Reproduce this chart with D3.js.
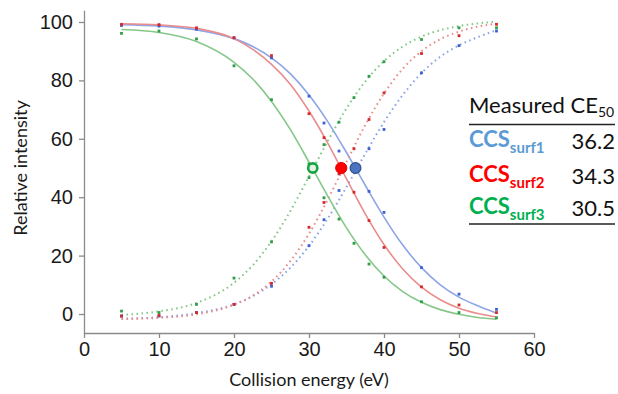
<!DOCTYPE html>
<html>
<head>
<meta charset="utf-8">
<script src="https://cdn.jsdelivr.net/npm/d3@7"></script>
<style>
  body { margin: 0; background: #fff; }
  svg { font-family: Lato, "Open Sans", sans-serif; }
</style>
</head>
<body>
<div id="chart"></div>
<script>
// collision energies where intensities were measured
const ceX = [5, 10, 15, 20, 25, 30, 32, 34, 36, 38, 40, 45, 50, 55];

// measured points, precursor (decreasing) and fragment (increasing)
const blueDec = [98.8, 98.6, 97.5, 94.6, 87.7, 74.6, 65.4, 55.8, 51.0, 42.0, 34.8, 15.9, 6.8, 1.6];
const redDec = [99.2, 99.1, 98.0, 94.6, 88.5, 68.6, 60.4, 50.5, 41.7, 32.0, 22.8, 9.3, 3.1, 0.5];
const greenDec = [96.1, 96.9, 94.2, 85.0, 73.4, 51.4, 39.8, 32.5, 24.2, 17.1, 12.6, 4.2, 0.5, -1.3];
const blueInc = [-0.7, -0.7, 0.5, 3.3, 9.5, 23.4, 32.3, 42.3, 49.0, 56.6, 63.2, 82.6, 91.9, 96.9];
const redInc = [-0.7, -0.5, 0.5, 3.3, 10.5, 29.7, 38.2, 48.0, 56.6, 66.6, 75.7, 89.2, 95.3, 99.2];
const greenInc = [1.0, 0.5, 3.3, 12.3, 24.7, 46.7, 58.0, 65.7, 74.1, 81.4, 86.4, 94.0, 98.0, 98.0];

// fitted curves
const fitX = [5, 10, 15, 20, 22.5, 25, 27.5, 30, 32.5, 35, 37.5, 40, 42.5, 45, 47.5, 50, 52.5, 55];
const blueFitDec = [99.1, 98.6, 97.3, 94.3, 91.6, 87.7, 82.3, 75.0, 65.9, 55.3, 44.1, 33.2, 23.6, 15.9, 10.0, 5.8, 2.8, 0.3];
const redFitDec = [99.4, 99.0, 97.8, 94.3, 90.6, 85.5, 78.7, 69.5, 58.5, 46.3, 34.3, 23.8, 15.4, 9.2, 4.9, 2.0, 0.2, -1.0];
const greenFitDec = [97.4, 96.4, 93.3, 86.2, 80.5, 72.8, 63.2, 52.0, 40.4, 29.5, 20.3, 13.0, 7.7, 4.0, 1.5, -0.1, -1.2, -1.8];
const blueFitInc = [-1.6, -1.1, 0.3, 3.3, 6.1, 10.2, 15.8, 23.3, 32.7, 43.5, 54.9, 65.7, 75.0, 82.5, 88.1, 92.0, 94.8, 97.2];
const redFitInc = [-1.7, -1.3, -0.1, 3.2, 6.3, 11.1, 18.1, 27.5, 39.2, 52.1, 64.7, 75.5, 84.0, 90.0, 94.1, 96.7, 98.4, 99.4];
const greenFitInc = [-0.3, 0.9, 3.8, 10.7, 16.7, 24.9, 35.2, 47.1, 59.2, 70.4, 79.6, 86.6, 91.6, 95.0, 97.2, 98.6, 99.5, 100.1];

// table of measured CE50
const seriesNames = ["surf1", "surf2", "surf3"];
const ce50 = [36.2, 34.3, 30.5];

const xTicks = [0, 10, 20, 30, 40, 50, 60];
const yTicks = [0, 20, 40, 60, 80, 100];

const width = 618, height = 394;

const svg = d3.select("#chart")
    .append("svg")
    .attr("width", width)
    .attr("height", height);

const x = d3.scaleLinear().domain([0, 60]).range([84, 534]);
const y = d3.scaleLinear().domain([-6.5, 104]).range([333, 10.3]);

// axes
const xAxis = svg.append("g")
    .attr("transform", `translate(0,${y(-6.5)})`)
    .call(d3.axisBottom(x).tickValues(xTicks).tickSize(5).tickSizeOuter(0).tickPadding(4));

const yAxis = svg.append("g")
    .attr("transform", `translate(${x(0)},0)`)
    .call(d3.axisLeft(y).tickValues(yTicks).tickSize(5).tickSizeOuter(0).tickPadding(6));

[xAxis, yAxis].forEach(g => {
    g.select(".domain").attr("stroke", "#8a8a8a").attr("stroke-width", 1.3);
    g.selectAll(".tick line").attr("stroke", "#8a8a8a").attr("stroke-width", 1.3);
    g.selectAll(".tick text").attr("fill", "#1a1a1a").style("font-size", "20px");
});

svg.append("text")
    .attr("x", x(30))
    .attr("y", 386)
    .attr("text-anchor", "middle")
    .attr("fill", "#1a1a1a")
    .style("font-size", "18px")
    .text("Collision energy (eV)");

svg.append("text")
    .attr("transform", `translate(27,${y(50)}) rotate(-90)`)
    .attr("text-anchor", "middle")
    .attr("fill", "#1a1a1a")
    .style("font-size", "18px")
    .text("Relative intensity");

// curves and points
const series = [
    { fitDec: blueFitDec, fitInc: blueFitInc, dec: blueDec, inc: blueInc, line: "#8ea5e6", pt: "#3d5fcf" },
    { fitDec: redFitDec, fitInc: redFitInc, dec: redDec, inc: redInc, line: "#e98c8c", pt: "#d42a2a" },
    { fitDec: greenFitDec, fitInc: greenFitInc, dec: greenDec, inc: greenInc, line: "#86c78a", pt: "#2f9e45" }
];

const line = d3.line()
    .x(d => x(d[0]))
    .y(d => y(d[1]))
    .curve(d3.curveMonotoneX);

series.forEach(s => {
    svg.append("path")
        .datum(fitX.map((v, i) => [v, s.fitDec[i]]))
        .attr("fill", "none")
        .attr("stroke", s.line)
        .attr("stroke-width", 1.6)
        .attr("d", line);

    svg.append("path")
        .datum(fitX.map((v, i) => [v, s.fitInc[i]]))
        .attr("fill", "none")
        .attr("stroke", s.line)
        .attr("stroke-width", 2)
        .attr("stroke-dasharray", "1.6,3.4")
        .attr("d", line);
});

series.forEach(s => {
    const pts = ceX.map((v, i) => [v, s.dec[i]]).concat(ceX.map((v, i) => [v, s.inc[i]]));
    svg.append("g").selectAll("rect")
        .data(pts)
        .enter().append("rect")
        .attr("x", d => x(d[0]) - 1.4)
        .attr("y", d => y(d[1]) - 1.4)
        .attr("width", 2.8)
        .attr("height", 2.8)
        .attr("fill", s.pt);
});

// CE50 markers
svg.append("circle")
    .attr("cx", x(ce50[2])).attr("cy", y(50)).attr("r", 4.6)
    .attr("fill", "#e4f3e4").attr("stroke", "#16a543").attr("stroke-width", 2.6);
svg.append("circle")
    .attr("cx", x(ce50[1])).attr("cy", y(50)).attr("r", 5.6)
    .attr("fill", "#ff0000").attr("stroke", "#e00000").attr("stroke-width", 1);
svg.append("circle")
    .attr("cx", x(ce50[0])).attr("cy", y(50)).attr("r", 5.4)
    .attr("fill", "#4a74c0").attr("stroke", "#2f4f8a").attr("stroke-width", 1.2);

// CE50 table
const tableColors = ["#5b9bd5", "#ff0000", "#00b050"];
const tLeft = 469, tRight = 615;

const head = svg.append("text")
    .attr("x", tLeft)
    .attr("y", 113)
    .attr("fill", "#111")
    .style("font-size", "22px");
head.append("tspan").text("Measured CE");
head.append("tspan").attr("dy", 4).style("font-size", "14px").text("50");

svg.append("line")
    .attr("x1", tLeft).attr("x2", tRight)
    .attr("y1", 124.5).attr("y2", 124.5)
    .attr("stroke", "#222").attr("stroke-width", 1.6);

const rowY = [147, 182, 214];
seriesNames.forEach((name, i) => {
    const t = svg.append("text")
        .attr("x", tLeft)
        .attr("y", rowY[i])
        .attr("fill", tableColors[i])
        .style("font-weight", "bold")
        .style("font-size", "22px");
    t.append("tspan").text("CCS");
    t.append("tspan").attr("dy", 6).style("font-size", "15px").text(name);

    svg.append("text")
        .attr("x", tRight)
        .attr("y", rowY[i] + 2)
        .attr("text-anchor", "end")
        .attr("fill", "#111")
        .style("font-size", "22px")
        .text(ce50[i].toFixed(1));
});

svg.append("line")
    .attr("x1", tLeft).attr("x2", tRight)
    .attr("y1", 224).attr("y2", 224)
    .attr("stroke", "#222").attr("stroke-width", 1.6);
</script>
</body>
</html>
